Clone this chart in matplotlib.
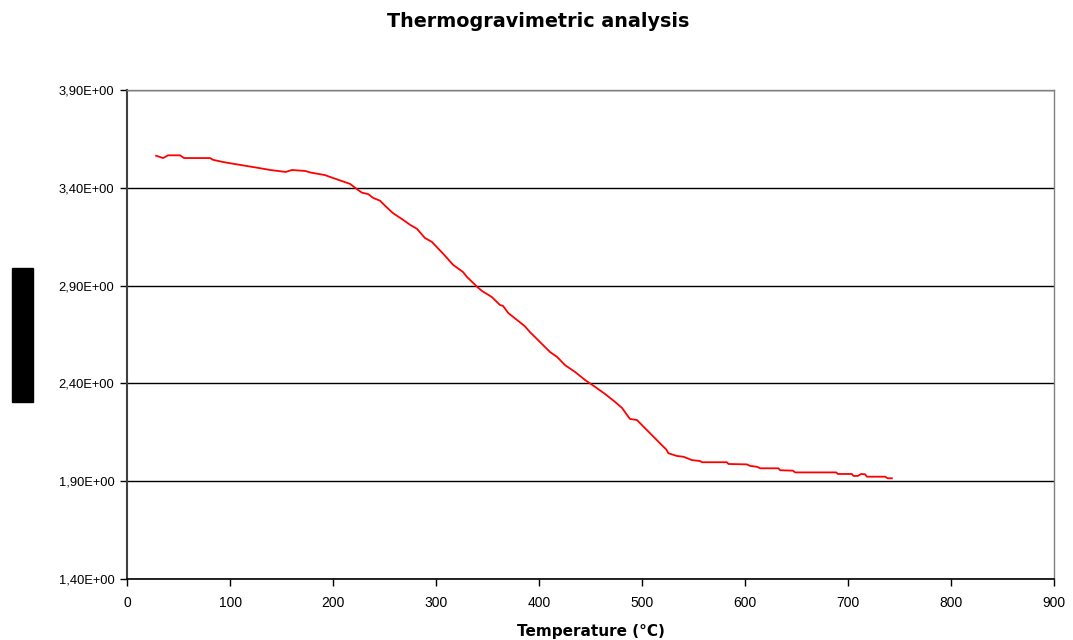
import numpy as np
import matplotlib.pyplot as plt
from matplotlib.patches import Rectangle
from matplotlib.ticker import FuncFormatter

plt.rcParams['font.family'] = ['Liberation Sans', 'DejaVu Sans']

# === Data ===
temperature = [28.2, 35, 39.8, 51.5, 55.3, 80.6, 83.5, 93, 104, 115.5, 127, 139, 154, 160,
               173, 178, 183.5, 192, 200, 216.5, 221.4, 228, 234, 239, 245.6, 250.5, 258,
               268, 275, 281.5, 289, 296, 307, 316.5, 326, 330, 340, 344.7, 354, 362, 365,
               370, 378.6, 386, 391, 410.7, 417.5, 425, 435, 444.7, 454.4, 464, 473.8,
               480.6, 485.4, 488.3, 494.9, 520.7, 523.3, 525.5, 533.7, 540.1, 548.3, 556.3,
               558, 582.2, 583.8, 601.7, 604.9, 611.4, 614.6, 632.3, 634, 646.3, 648.5,
               688.3, 690, 703.6, 705.1, 709.4, 712.6, 716.5, 718.2, 735.9, 738.2, 742.4]
weight = [3.564, 3.552, 3.566, 3.566, 3.552, 3.552, 3.543, 3.532, 3.522, 3.512, 3.502, 3.491,
          3.481, 3.491, 3.486, 3.478, 3.473, 3.465, 3.450, 3.420, 3.400, 3.375, 3.368, 3.348,
          3.334, 3.308, 3.271, 3.236, 3.210, 3.190, 3.144, 3.123, 3.062, 3.006, 2.970, 2.944,
          2.893, 2.872, 2.842, 2.801, 2.796, 2.760, 2.724, 2.693, 2.663, 2.560, 2.535, 2.494,
          2.458, 2.417, 2.382, 2.346, 2.305, 2.274, 2.238, 2.218, 2.213, 2.076, 2.063, 2.043,
          2.029, 2.025, 2.008, 2.003, 1.997, 1.997, 1.988, 1.986, 1.978, 1.974, 1.966, 1.966,
          1.956, 1.954, 1.945, 1.945, 1.937, 1.937, 1.927, 1.927, 1.937, 1.935, 1.923, 1.923,
          1.915, 1.915]

x_ticks = [0, 100, 200, 300, 400, 500, 600, 700, 800, 900]
y_ticks = [1.40, 1.90, 2.40, 2.90, 3.40, 3.90]

# === Plot ===
fig = plt.figure(figsize=(10.73, 6.4), dpi=100)
ax = fig.add_axes([0.1184, 0.0953, 0.8641, 0.7641])

ax.plot(temperature, weight, color='red', linewidth=1.3)

ax.set_xlim(0, 900)
ax.set_ylim(1.40, 3.90)
ax.set_xticks(x_ticks)
ax.set_yticks(y_ticks)
ax.yaxis.set_major_formatter(FuncFormatter(lambda v, p: f"{v:.2E}".replace('.', ',')))
ax.tick_params(length=5, width=1, color='black', direction='out')
ax.tick_params(axis='x', labelsize=10, pad=7)
ax.tick_params(axis='y', labelsize=9.3, pad=4)

ax.grid(axis='y', color='black', linewidth=1)
ax.set_axisbelow(True)
for side in ['top', 'right']:
    ax.spines[side].set_color('#808080')
    ax.spines[side].set_linewidth(1)
ax.spines['left'].set_color('#404040')
ax.spines['left'].set_linewidth(1.5)
ax.spines['bottom'].set_color('black')
ax.spines['bottom'].set_linewidth(1.2)

# wide bold lettering, like the reference
fig.text(0.502, 0.967, 'Thermogravimetric analysis', ha='center', va='center',
         fontsize=13.8, fontweight='bold', family='DejaVu Sans')
fig.text(0.551, 0.014, 'Temperature (°C)', ha='center', va='center',
         fontsize=11, fontweight='bold', family='DejaVu Sans')

# y-axis label hidden behind a black box, as in the reference
fig.patches.append(Rectangle((12 / 1073, 1 - 402 / 640), 21 / 1073, 134 / 640,
                             transform=fig.transFigure, color='black', zorder=1))
fig.text(22 / 1073, 1 - 335 / 640, 'Weight (mg)', rotation=90, ha='center', va='center',
         fontsize=9.5, fontweight='bold', color='black', zorder=2)

plt.savefig('out.png', dpi=100)
